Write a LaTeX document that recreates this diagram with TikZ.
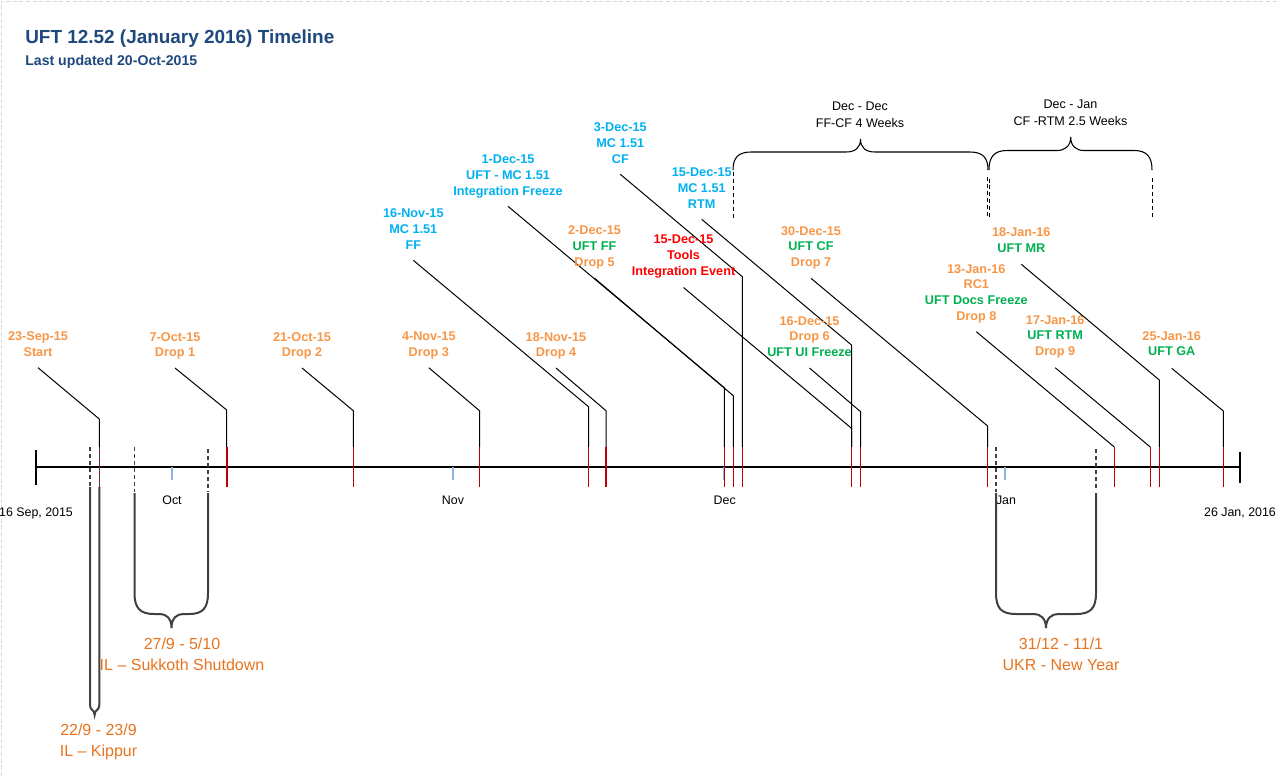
\documentclass[tikz,border=0pt]{standalone}
\usepackage{fontspec}
\setmainfont{Liberation Sans}

\definecolor{dropor}{RGB}{247,150,70}
\definecolor{mcblue}{RGB}{0,176,240}
\definecolor{uftgreen}{RGB}{0,176,80}
\definecolor{toolred}{RGB}{255,0,0}
\definecolor{tickred}{RGB}{192,0,0}
\definecolor{titleblue}{RGB}{31,73,125}
\definecolor{holior}{RGB}{232,115,30}
\definecolor{monthblue}{RGB}{141,180,226}
\definecolor{bracegray}{RGB}{64,64,64}
\definecolor{edgegray}{RGB}{215,215,215}

\begin{document}
\begin{tikzpicture}[x=0.75pt,y=-0.75pt,
  lbl/.style={font=\bfseries\fontsize{9.5}{11.9}\selectfont,align=center,inner sep=0pt,anchor=north},
  axlbl/.style={font=\fontsize{9.3}{11}\selectfont,inner sep=0pt,anchor=north},
  spanlbl/.style={font=\fontsize{9.4}{13}\selectfont,align=center,inner sep=0pt,anchor=north},
  holilbl/.style={font=\fontsize{12}{15.75}\selectfont,align=center,inner sep=0pt,anchor=north,text=holior},
  leader/.style={line width=0.75pt},
  redtick/.style={draw=tickred,line width=1.2pt},
  monthtick/.style={draw=monthblue,line width=0.9pt},
  guide/.style={draw=bracegray,dash pattern=on 3pt off 2.2pt,line width=0.8pt},
  spanguide/.style={draw=black,dash pattern=on 3pt off 2.2pt,line width=0.55pt},
  holibrace/.style={draw=bracegray,line width=1.5pt},
  spanbrace/.style={line width=0.8pt}]

\useasboundingbox (0,0) rectangle (1278,776);
\draw[edgegray,dash pattern=on 3pt off 2pt,line width=0.75pt] (1,776) -- (1,1) -- (1278,1);

% title
\node[anchor=base west,inner sep=0pt,font=\bfseries\fontsize{14.2}{17}\selectfont,text=titleblue] (title) at (25,43.3) {UFT 12.52 (January 2016) Timeline};
\node[anchor=base west,inner sep=0pt,font=\bfseries\fontsize{10.6}{13}\selectfont,text=titleblue] (updated) at (25,65) {Last updated 20-Oct-2015};

% axis
\coordinate (axL) at (36,467);
\coordinate (axR) at (1240,467);
\draw[line width=0.9pt] (axL) -- (axR);
\draw[line width=0.9pt] (axL) ++(0,-17) -- ++(0,35);
\draw[line width=0.9pt] (axR) ++(0,-15) -- ++(0,31);
\node[axlbl] (dFirst) at (36,508) {16 Sep, 2015};
\node[axlbl] (dLast) at (1240,508) {26 Jan, 2016};
\node[axlbl] (mOct) at (172,496) {Oct};
\node[axlbl] (mNov) at (453,496) {Nov};
\node[axlbl] (mDec) at (724.7,496) {Dec};
\node[axlbl] (mJan) at (1006,496) {Jan};
\foreach \mx in {172,453,724,1005}
  \draw[monthtick] (\mx,467) -- ++(0,13);

% 23-Sep-15
\node[lbl,text=dropor] (nStart) at (38,331.7) {23-Sep-15\\Start};
\coordinate (eStart) at (99.3,419); \coordinate (tStart) at (99.3,447);
\draw[leader] (nStart.north) ++(0,36) -- (eStart) -- (tStart);
\draw[redtick] (tStart) -- ++(0,40);

% 7-Oct-15
\node[lbl,text=dropor] (nDrop1) at (175,332) {7-Oct-15\\Drop 1};
\coordinate (eDrop1) at (226.7,410); \coordinate (tDrop1) at (226.7,447);
\draw[leader] (nDrop1.north) ++(0,36) -- (eDrop1) -- (tDrop1);
\draw[redtick] (tDrop1) -- ++(0,40);

% 21-Oct-15
\node[lbl,text=dropor] (nDrop2) at (302,332) {21-Oct-15\\Drop 2};
\coordinate (eDrop2) at (353.3,410.7); \coordinate (tDrop2) at (353.3,447);
\draw[leader] (nDrop2.north) ++(0,36) -- (eDrop2) -- (tDrop2);
\draw[redtick] (tDrop2) -- ++(0,40);

% 4-Nov-15
\node[lbl,text=dropor] (nDrop3) at (428.8,331.7) {4-Nov-15\\Drop 3};
\coordinate (eDrop3) at (479.5,410.7); \coordinate (tDrop3) at (479.5,447);
\draw[leader] (nDrop3.north) ++(0,36) -- (eDrop3) -- (tDrop3);
\draw[redtick] (tDrop3) -- ++(0,40);

% 16-Nov-15
\node[lbl,text=mcblue] (nMcFF) at (413.3,208.3) {16-Nov-15\\MC 1.51\\FF};
\coordinate (eMcFF) at (588.5,406.7); \coordinate (tMcFF) at (588.5,447);
\draw[leader] (nMcFF.north) ++(0,52) -- (eMcFF) -- (tMcFF);
\draw[redtick] (tMcFF) -- ++(0,40);

% 18-Nov-15
\node[lbl,text=dropor] (nDrop4) at (556,332) {18-Nov-15\\Drop 4};
\coordinate (eDrop4) at (606,410.7); \coordinate (tDrop4) at (606,447);
\draw[leader] (nDrop4.north) ++(0,36) -- (eDrop4) -- (tDrop4);
\draw[redtick] (tDrop4) -- ++(0,40);

% 1-Dec-15
\node[lbl,text=mcblue] (nIntFreeze) at (508,154.3) {1-Dec-15\\UFT - MC 1.51\\Integration Freeze};
\coordinate (eIntFreeze) at (724.3,387.7); \coordinate (tIntFreeze) at (724.3,447);
\draw[leader] (nIntFreeze.north) ++(0,52) -- (eIntFreeze) -- (tIntFreeze);
\draw[redtick] (tIntFreeze) -- ++(0,40);

% 2-Dec-15
\node[lbl,text=dropor] (nDrop5) at (594.5,225.7) {2-Dec-15\\\textcolor{uftgreen}{UFT FF}\\Drop 5};
\coordinate (eDrop5) at (733.3,395.7); \coordinate (tDrop5) at (733.3,447);
\draw[leader] (nDrop5.north) ++(0,52.5) -- (eDrop5) -- (tDrop5);
\draw[redtick] (tDrop5) -- ++(0,40);

% 3-Dec-15
\node[lbl,text=mcblue] (nMcCF) at (620.3,122.3) {3-Dec-15\\MC 1.51\\CF};
\coordinate (eMcCF) at (742.3,276.7); \coordinate (tMcCF) at (742.3,447);
\draw[leader] (nMcCF.north) ++(0,52) -- (eMcCF) -- (tMcCF);
\draw[redtick] (tMcCF) -- ++(0,40);

% 15-Dec-15
\node[lbl,text=mcblue] (nMcRTM) at (701.7,167.3) {15-Dec-15\\MC 1.51\\RTM};
\coordinate (eMcRTM) at (851.5,345); \coordinate (tMcRTM) at (851.5,447);
\draw[leader] (nMcRTM.north) ++(0,52) -- (eMcRTM) -- (tMcRTM);
\node[lbl,text=toolred] (nTools) at (683.5,235) {15-Dec-15\\Tools\\Integration Event};
\coordinate (eTools) at (851.5,428.3);
\draw[leader] (nTools.north) ++(0,52.5) -- (eTools) -- (tMcRTM);
\draw[redtick] (tMcRTM) -- ++(0,40);

% 16-Dec-15
\node[lbl,text=dropor] (nDrop6) at (809.5,316) {16-Dec-15\\Drop 6\\\textcolor{uftgreen}{UFT UI Freeze}};
\coordinate (eDrop6) at (860.6,411.7); \coordinate (tDrop6) at (860.6,447);
\draw[leader] (nDrop6.north) ++(0,52) -- (eDrop6) -- (tDrop6);
\draw[redtick] (tDrop6) -- ++(0,40);

% 30-Dec-15
\node[lbl,text=dropor] (nDrop7) at (811,226) {30-Dec-15\\\textcolor{uftgreen}{UFT CF}\\Drop 7};
\coordinate (eDrop7) at (987.6,426); \coordinate (tDrop7) at (987.6,447);
\draw[leader] (nDrop7.north) ++(0,52.3) -- (eDrop7) -- (tDrop7);
\draw[redtick] (tDrop7) -- ++(0,40);

% 13-Jan-16
\node[lbl,text=dropor] (nDrop8) at (976.3,264) {13-Jan-16\\RC1\\\textcolor{uftgreen}{UFT Docs Freeze}\\Drop 8};
\coordinate (tDrop8) at (1114.3,447);
\draw[leader] (nDrop8.north) ++(0,67.7) -- (tDrop8);
\draw[redtick] (tDrop8) -- ++(0,40);

% 17-Jan-16
\node[lbl,text=dropor] (nDrop9) at (1055.2,315) {17-Jan-16\\\textcolor{uftgreen}{UFT RTM}\\Drop 9};
\coordinate (tDrop9) at (1150.3,447);
\draw[leader] (nDrop9.north) ++(0,52.7) -- (tDrop9);
\draw[redtick] (tDrop9) -- ++(0,40);

% 18-Jan-16
\node[lbl,text=dropor] (nMR) at (1021.3,227.7) {18-Jan-16\\\textcolor{uftgreen}{UFT MR}};
\coordinate (eMR) at (1159.3,380); \coordinate (tMR) at (1159.3,447);
\draw[leader] (nMR.north) ++(0,36.6) -- (eMR) -- (tMR);
\draw[redtick] (tMR) -- ++(0,40);

% 25-Jan-16
\node[lbl,text=dropor] (nGA) at (1171.7,331) {25-Jan-16\\\textcolor{uftgreen}{UFT GA}};
\coordinate (eGA) at (1223.3,411); \coordinate (tGA) at (1223.3,447);
\draw[leader] (nGA.north) ++(0,37.3) -- (eGA) -- (tGA);
\draw[redtick] (tGA) -- ++(0,40);

% holidays
\draw[guide] (90,447) -- (90,487);
\draw[guide] (99.3,447) -- (99.3,487);
\draw[holibrace] (90,487) -- (90,705) .. controls (90,711) and (94.6,709) .. (94.6,715)
  .. controls (94.6,709) and (99.3,711) .. (99.3,705) -- (99.3,487);
\node[holilbl] (hKippur) at (98.5,723.3) {22/9 - 23/9\\IL – Kippur};

\draw[guide] (134.5,447) -- (134.5,492);
\draw[guide] (208,449) -- (208,491);
\draw[holibrace] (134.5,493) -- (134.5,593) .. controls (134.5,608) and (140,614) .. (154,614) -- (160,614)
  .. controls (166,614) and (171.5,618) .. (171.5,628) .. controls (171.5,618) and (177,614) .. (183,614)
  -- (189,614) .. controls (203,614) and (208,608) .. (208,593) -- (208,493);
\node[holilbl] (hSukkoth) at (182,637.3) {27/9 - 5/10\\IL – Sukkoth Shutdown};

\draw[guide] (996,447) -- (996,492);
\draw[guide] (1096,449) -- (1096,490);
\draw[holibrace] (996,493) -- (996,593) .. controls (996,608) and (1001,614) .. (1016,614) -- (1034,614)
  .. controls (1040,614) and (1046,618) .. (1046,628) .. controls (1046,618) and (1052,614) .. (1058,614)
  -- (1076,614) .. controls (1091,614) and (1096,608) .. (1096,593) -- (1096,493);
\node[holilbl] (hNewYear) at (1061,637.3) {31/12 - 11/1\\UKR - New Year};

% spans
\draw[spanguide] (733,172) -- (733,218);
\draw[spanguide] (987,177) -- (987,218);
\draw[spanguide] (989.5,178.5) -- (989.5,218);
\draw[spanguide] (1152,178) -- (1152,218);
\draw[spanbrace] (733,170) .. controls (733,158) and (738,152) .. (751,152) -- (846,152)
  .. controls (855,152) and (860.5,148) .. (860.5,139) .. controls (860.5,148) and (866,152) .. (875,152)
  -- (970,152) .. controls (983,152) and (988,158) .. (988,170);
\node[spanlbl] (sFFCF) at (860,101.7) {Dec - Dec\\FF-CF 4 Weeks};
\draw[spanbrace] (989,170) .. controls (989,157) and (994,150.5) .. (1007,150.5) -- (1057,150.5)
  .. controls (1065,150.5) and (1070.7,146) .. (1070.7,137) .. controls (1070.7,146) and (1076,150.5) .. (1084,150.5)
  -- (1134,150.5) .. controls (1147,150.5) and (1152,157) .. (1152,170);
\node[spanlbl] (sCFRTM) at (1070.5,99.3) {Dec - Jan\\CF -RTM 2.5 Weeks};
\end{tikzpicture}
\end{document}
